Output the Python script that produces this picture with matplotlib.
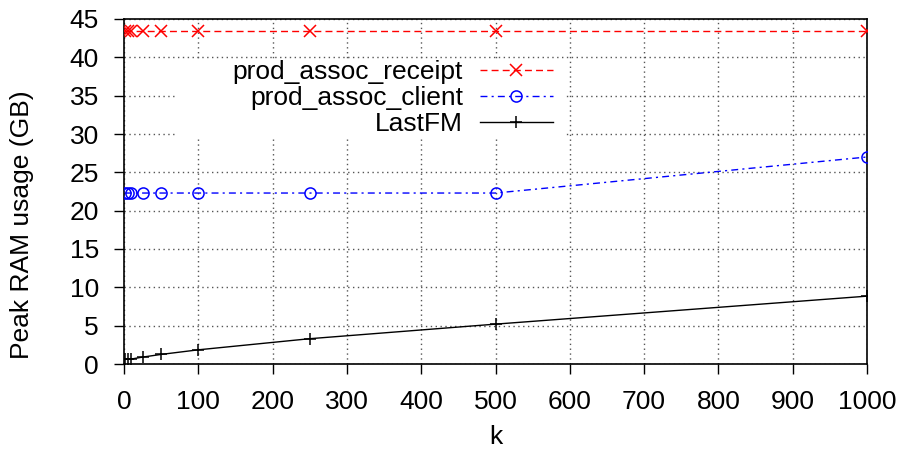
import matplotlib
matplotlib.use("Agg")
import matplotlib.pyplot as plt
from matplotlib.patches import Rectangle

k = [1, 5, 10, 25, 50, 100, 250, 500, 1000]
receipt = [43.4, 43.4, 43.4, 43.4, 43.4, 43.4, 43.4, 43.4, 43.4]
client = [22.3, 22.3, 22.3, 22.3, 22.3, 22.3, 22.3, 22.3, 27.0]
lastfm = [0.6, 0.62, 0.65, 0.9, 1.25, 1.85, 3.3, 5.2, 8.85]
series_names = ["prod_assoc_receipt", "prod_assoc_client", "LastFM"]
xticks = [0, 100, 200, 300, 400, 500, 600, 700, 800, 900, 1000]
yticks = [0, 5, 10, 15, 20, 25, 30, 35, 40, 45]

plt.rcParams['font.family'] = ['Liberation Sans', 'DejaVu Sans']
FS = 19

fig = plt.figure(figsize=(9, 4.5), dpi=100)
ax = fig.add_axes([124/900, 1-364/450, (867-124)/900, (364-19)/450])

ax.plot(k, receipt, color='#ff0000', lw=1, linestyle=(0, (5, 3)), marker='x',
        markersize=8, markeredgewidth=1.1, label=series_names[0], zorder=3)
ax.plot(k, client, color='#0000ff', lw=1, linestyle=(0, (5, 3, 1.5, 3)), marker='o',
        markersize=8, markerfacecolor='none', markeredgewidth=1.1, label=series_names[1], zorder=3)
ax.plot(k, lastfm, color='black', lw=1, linestyle='-', marker='+',
        markersize=9, markeredgewidth=1.1, label=series_names[2], zorder=3)

ax.set_xlim(0, 1000)
ax.set_ylim(0, 45)
ax.set_xticks(xticks)
ax.set_yticks(yticks)
ax.tick_params(axis='both', direction='out', length=7, width=1, labelsize=FS)
ax.tick_params(axis='x', pad=12)
ax.tick_params(axis='y', pad=11)
for s in ax.spines.values():
    s.set_linewidth(1.2)

ax.grid(True, color='#555555', linestyle=(0, (1, 2.5)), linewidth=1, zorder=0)
ax.set_axisbelow(True)

# white key box behind the legend (gnuplot style)
ax.add_patch(Rectangle((0.0713, 0.655), 0.595 - 0.0713, 0.884 - 0.655,
                       transform=ax.transAxes, facecolor='white', edgecolor='none', zorder=1.5))

leg = ax.legend(loc='upper right', bbox_to_anchor=(0.577, 0.881), markerfirst=False,
                fontsize=FS, frameon=False, handlelength=2.75,
                handletextpad=0.65, labelspacing=0.07, borderpad=0.0,
                borderaxespad=0)
leg.set_zorder(2)

ax.set_xlabel('k', fontsize=FS, labelpad=8)
fig.text(22/900, 0.5, 'Peak RAM usage (GB)', rotation=90, ha='center', va='center', fontsize=FS)

fig.savefig('out.png', dpi=100)
